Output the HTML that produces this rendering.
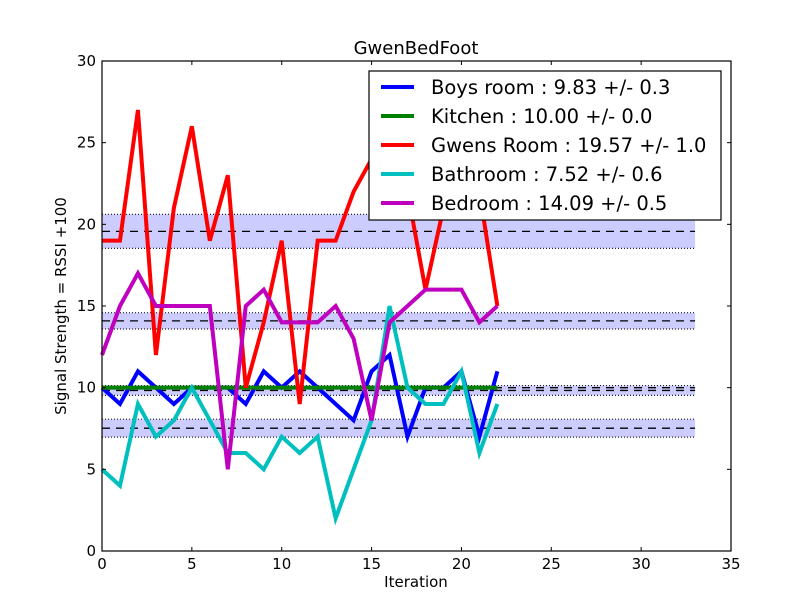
<!DOCTYPE html>
<html><head><meta charset="utf-8"><style>
body{margin:0;background:#fff}
svg{display:block;font-family:"DejaVu Sans","Liberation Sans",sans-serif}
</style></head><body>
<svg id="c" width="812" height="612"></svg>
<script>
const iterations=[0,1,2,3,4,5,6,7,8,9,10,11,12,13,14,15,16,17,18,19,20,21,22];
const seriesNames=["Boys room : 9.83 +/- 0.3","Kitchen : 10.00 +/- 0.0","Gwens Room : 19.57 +/- 1.0","Bathroom : 7.52 +/- 0.6","Bedroom : 14.09 +/- 0.5"];
const boys=[10,9,11,10,9,10,10,10,9,11,10,11,10,9,8,11,12,7,10,10,11,7,11];
const kitchen=[10,10,10,10,10,10,10,10,10,10,10,10,10,10,10,10,10,10,10,10,10,10,10];
const gwens=[19,19,27,12,21,26,19,23,10,14,19,9,19,19,22,24,25,22,16,21,23,22,15];
const bathroom=[5,4,9,7,8,10,8,6,6,5,7,6,7,2,5,8,15,10,9,9,11,6,9];
const bedroom=[12,15,17,15,15,15,15,5,15,16,14,14,14,15,13,8,14,15,16,16,16,14,15];
const means=[9.83,10.0,19.57,7.52,14.09];
const stds=[0.3,0.0,1.04,0.55,0.5];
const xTicks=[0,5,10,15,20,25,30,35];
const yTicks=[0,5,10,15,20,25,30];
const colors=["#0000ff","#008000","#ff0000","#00bfbf","#bf00bf"];
const L=102,R=731,T=61,B=551;
const X=v=>L+(v-0)/35*(R-L);
const Y=v=>B-(v-0)/30*(B-T);
const svg=document.getElementById('c');
const NS="http://www.w3.org/2000/svg";
function mk(tag,attrs,parent){const e=document.createElementNS(NS,tag);for(const k in attrs)e.setAttribute(k,attrs[k]);(parent||svg).appendChild(e);return e;}
const bandG=mk('g',{});


means.forEach((m,i)=>{
  const s=stds[i];
  if(s>0){
    const r=mk('rect',{x:X(0),y:Y(m+s),width:X(33)-X(0),height:Y(m-s)-Y(m+s),fill:"#ccccff"},bandG);
    
    
    [m+s,m-s].forEach(v=>{mk('line',{x1:X(0),x2:X(33),y1:Y(v),y2:Y(v),stroke:"#222",'stroke-width':1.2,'stroke-dasharray':"1,2"},bandG);});
  }
  const d=mk('line',{x1:X(0),x2:X(33),y1:Y(m),y2:Y(m),stroke:"#000",'stroke-width':1.3,'stroke-dasharray':"8,6"},bandG);
  
  
});
const data=[boys,kitchen,gwens,bathroom,bedroom];
const snames=['boys-room-line','kitchen-line','gwens-room-line','bathroom-line','bedroom-line'];
data.forEach((arr,i)=>{
  const p=mk('polyline',{points:arr.map((v,j)=>X(iterations[j])+","+Y(v)).join(" "),fill:"none",stroke:colors[i],'stroke-width':4,'stroke-linejoin':"miter"});
  
  
});
const fr=mk('rect',{x:L,y:T,width:R-L,height:B-T,fill:"none",stroke:"#000",'stroke-width':1.2});


xTicks.forEach(t=>{
  mk('line',{x1:X(t),x2:X(t),y1:B,y2:B-4,stroke:"#000"});
  mk('line',{x1:X(t),x2:X(t),y1:T,y2:T+4,stroke:"#000"});
  const tx=mk('text',{x:X(t),y:B+18,'text-anchor':"middle",'font-size':15});
  tx.textContent=t;
  
  
});
yTicks.forEach(t=>{
  mk('line',{x1:L,x2:L+4,y1:Y(t),y2:Y(t),stroke:"#000"});
  mk('line',{x1:R,x2:R-4,y1:Y(t),y2:Y(t),stroke:"#000"});
  const tx=mk('text',{x:L-6,y:Y(t)+5,'text-anchor':"end",'font-size':15});
  tx.textContent=t;
  
  
});
</script>
<svg style="position:absolute;left:0;top:0" width="812" height="612">
<text x="416" y="54" text-anchor="middle" font-size="18">GwenBedFoot</text>
<text x="416" y="587" text-anchor="middle" font-size="15">Iteration</text>
<text x="0" y="0" transform="translate(66,306) rotate(-90)" text-anchor="middle" font-size="15">Signal Strength  = RSSI +100</text>
<g>
<rect x="369" y="71" width="352" height="149" fill="#fff" stroke="#000" stroke-width="1.2"/>
<g font-size="19.5">
<g><line x1="381" x2="414" y1="87" y2="87" stroke="#0000ff" stroke-width="4"/><text x="431" y="94">Boys room : 9.83 +/- 0.3</text></g>
<g><line x1="381" x2="414" y1="116" y2="116" stroke="#008000" stroke-width="4"/><text x="431" y="123">Kitchen : 10.00 +/- 0.0</text></g>
<g><line x1="381" x2="414" y1="145" y2="145" stroke="#ff0000" stroke-width="4"/><text x="431" y="152">Gwens Room : 19.57 +/- 1.0</text></g>
<g><line x1="381" x2="414" y1="174" y2="174" stroke="#00bfbf" stroke-width="4"/><text x="431" y="181">Bathroom : 7.52 +/- 0.6</text></g>
<g><line x1="381" x2="414" y1="203" y2="203" stroke="#bf00bf" stroke-width="4"/><text x="431" y="210">Bedroom : 14.09 +/- 0.5</text></g>
</g>
</g>
</svg>
</body></html>
